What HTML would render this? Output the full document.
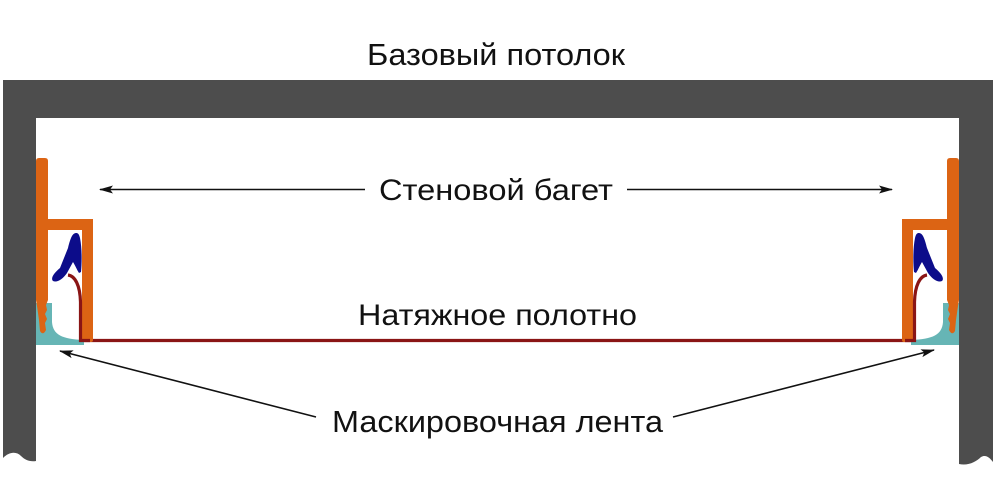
<!DOCTYPE html>
<html>
<head>
<meta charset="utf-8">
<style>
  html,body{margin:0;padding:0;background:#fff;}
  svg{display:block;}
  text{font-family:"Liberation Sans", Arial, sans-serif; fill:#111;}
</style>
</head>
<body>
<svg width="996" height="493" viewBox="0 0 996 493" xmlns="http://www.w3.org/2000/svg">
  <defs>
    <marker id="ah" markerWidth="14" markerHeight="10" refX="13" refY="5" orient="auto" markerUnits="userSpaceOnUse">
      <path d="M0,1 L14,5 L0,9 L3,5 Z" fill="#111"/>
    </marker>
    <g id="prof">
      <!-- teal masking tape -->
      <path d="M36,303 L52,303 L52,322 C53,335 62,339 84,340 L84,345 L36,345 Z" fill="#66b5b5"/>
      <!-- orange outer vertical with teeth -->
      <path d="M36,161 Q36,158 39,158 L45,158 Q48,158 48,161 L48,300 L46,305 L47,310 L45,314 L47,319 L45,323 L46,330 Q43,336 40,331 L39,320 L37,306 L36,300 Z" fill="#dc6414"/>
      <!-- orange horizontal -->
      <rect x="46" y="219" width="47" height="11" fill="#dc6414"/>
      <!-- orange inner vertical -->
      <path d="M82,219 L93,219 L93,340 Q93,342 91,342 L84,342 Q82,342 82,340 Z" fill="#dc6414"/>
      <!-- blue seal -->
      <path d="M76,233 C72,233 70,240 68,248 L60,268 C55,272 50,278 53,281 C57,283 63,279 67,273 L73,262 C75,265 77,270 79,273 L81,272 C82,262 82,248 80,238 C79,234 78,233 76,233 Z" fill="#0c0c8a"/>
      <!-- maroon membrane curve -->
      <path d="M68,275 C75,276 80,285 80.5,302 L80.5,340.5 L90,340.5" fill="none" stroke="#8a1515" stroke-width="3.2"/>
    </g>
  </defs>

  <!-- walls and ceiling -->
  <path d="M3,80 L993,80 L993,462 C990,458 986,454 981,457 C976,462 968,466 959,464 L959,118 L36,118 L36,461 C30,462 25,460 21,456 C16,451 9,452 3,458 Z" fill="#4d4d4d"/>

  <!-- stretch ceiling membrane -->
  <line x1="80" y1="340.5" x2="915" y2="340.5" stroke="#8a1515" stroke-width="3.2"/>

  <!-- profiles -->
  <use href="#prof"/>
  <use href="#prof" transform="translate(995,0) scale(-1,1)"/>

  <!-- labels -->
  <text x="496" y="65" font-size="31" text-anchor="middle" textLength="258" lengthAdjust="spacingAndGlyphs">Базовый потолок</text>
  <text x="496" y="200" font-size="30" text-anchor="middle" textLength="234" lengthAdjust="spacingAndGlyphs">Стеновой багет</text>
  <text x="497.5" y="325" font-size="30" text-anchor="middle" textLength="279" lengthAdjust="spacingAndGlyphs">Натяжное полотно</text>
  <text x="497.5" y="432" font-size="31" text-anchor="middle" textLength="331" lengthAdjust="spacingAndGlyphs">Маскировочная лента</text>

  <!-- arrows -->
  <line x1="365" y1="189.5" x2="100" y2="189.5" stroke="#111" stroke-width="1.6" marker-end="url(#ah)"/>
  <line x1="627" y1="189.5" x2="892" y2="189.5" stroke="#111" stroke-width="1.6" marker-end="url(#ah)"/>
  <line x1="316" y1="417" x2="60" y2="351" stroke="#111" stroke-width="1.6" marker-end="url(#ah)"/>
  <line x1="673" y1="417" x2="934" y2="350" stroke="#111" stroke-width="1.6" marker-end="url(#ah)"/>
</svg>
</body>
</html>
